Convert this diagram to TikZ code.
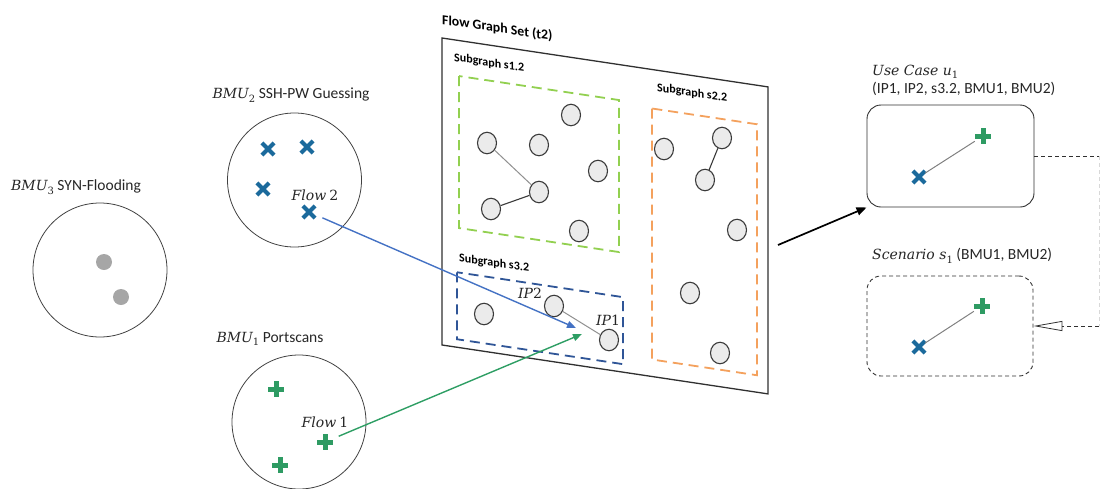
\documentclass[tikz,border=0pt]{standalone}
\usepackage{fontspec}
\setmainfont{Carlito}
\newfontfamily\mathlike{DejaVu Serif}
\usetikzlibrary{arrows.meta,shapes.misc,shapes.geometric}
\definecolor{xblue}{HTML}{1B6A9C}
\definecolor{xgreen}{HTML}{2E9B63}
\definecolor{arrblue}{HTML}{4472C4}
\definecolor{arrgreen}{HTML}{2E9E64}
\definecolor{dgreen}{HTML}{92D050}
\definecolor{dorange}{HTML}{F4A15D}
\definecolor{dblue}{HTML}{2F5597}
\definecolor{dotgray}{HTML}{A6A6A6}
\definecolor{nodefill}{HTML}{EBEBEB}
\definecolor{nodegray}{HTML}{3A3A3A}
\definecolor{circgray}{HTML}{404040}
\definecolor{boxgray}{HTML}{303030}
\definecolor{edgegray}{HTML}{909090}
\definecolor{faintgray}{HTML}{D8D8D8}
\definecolor{txtgray}{HTML}{262626}
\newcommand{\mi}[1]{{\mathlike\itshape #1}}
\newcommand{\msub}[1]{\raisebox{-0.25em}{\mathlike\fontsize{10}{11}\selectfont #1}}
\begin{document}
\begin{tikzpicture}[x=1pt,y=-1pt,
  bmu/.style={circle, draw=circgray, line width=0.8pt, minimum size=134pt, inner sep=0},
  gdot/.style={circle, fill=dotgray, minimum size=16pt, inner sep=0},
  xm/.style={cross out, draw=xblue, line width=4.2pt, minimum size=8pt, inner sep=0},
  pm/.style={rectangle, minimum size=16pt, inner sep=0,
    path picture={\draw[line width=5pt, xgreen]
      (path picture bounding box.west) -- (path picture bounding box.east)
      (path picture bounding box.north) -- (path picture bounding box.south);}},
  vert/.style={ellipse, draw=nodegray, fill=nodefill, line width=1.1pt, minimum width=19pt, minimum height=21.5pt, inner sep=0},
  lbl/.style={font=\fontsize{15.5}{17}\selectfont, text=txtgray, inner sep=0},
  mlbl/.style={font=\fontsize{14}{16}\selectfont, text=txtgray, inner sep=0},
  titlelbl/.style={font=\bfseries\fontsize{13.8}{15}\selectfont, inner sep=0, anchor=west, transform shape},
  sglbl/.style={font=\bfseries\fontsize{12}{13}\selectfont, inner sep=0, anchor=west, transform shape},
  panel/.style={draw=boxgray, line width=1.3pt, fill=white},
  gdash/.style={draw=dgreen, line width=1.8pt, dash pattern=on 10pt off 6pt},
  odash/.style={draw=dorange, line width=1.8pt, dash pattern=on 10pt off 6pt},
  bdash/.style={draw=dblue, line width=1.8pt, dash pattern=on 10pt off 6pt},
  flowarrow/.style={line width=1.4pt, -{Triangle[length=9pt,width=7pt]}},
  blackarrow/.style={line width=1.7pt, -{Triangle[length=10pt,width=8pt]}},
  ucbox/.style={rectangle, rounded corners=14pt, draw=boxgray, line width=0.9pt, minimum width=167pt, minimum height=102pt},
  scbox/.style={rectangle, rounded corners=14pt, draw=boxgray, line width=0.9pt, dash pattern=on 4pt off 3pt, minimum width=166pt, minimum height=100pt},
  link/.style={draw=edgegray, line width=1pt},
  darklink/.style={draw=nodegray, line width=1.1pt}
]
\useasboundingbox (0,0) rectangle (1100,488);

% ---- left clusters
\node[bmu] (c3) at (100,270) {};
\node[gdot] (g1) at (104,262) {};
\node[gdot] (g2) at (121,297) {};
\node[lbl, anchor=west] (l3) at (11,187) {{\fontsize{14}{16}\selectfont\mi{BMU}\msub{3}} SYN-Flooding};

\node[bmu] (c2) at (294.5,180) {};
\node[xm] (x1) at (268,149) {};
\node[xm] (x2) at (307,147) {};
\node[xm] (x3) at (263,189) {};
\node[xm] (f2) at (309,212) {};
\node[mlbl] (f2l) at (315,195) {\mi{Flow} {\mathlike 2}};
\node[lbl] (l2) at (291,95) {{\fontsize{14}{16}\selectfont\mi{BMU}\msub{2}} SSH-PW Guessing};

\node[bmu] (c1) at (299,422) {};
\node[pm] (p1) at (276,389) {};
\node[pm] (f1) at (325,442) {};
\node[pm] (p3) at (280,465) {};
\node[mlbl] (f1l) at (325,422) {\mi{Flow} {\mathlike 1}};
\node[lbl] (l1) at (270,339) {{\fontsize{14}{16}\selectfont\mi{BMU}\msub{1}} Portscans};

% ---- flow graph panel (slanted)
\begin{scope}[cm={1,-0.15,0,1,(442,0)}]
  \draw[panel] (0,38) rectangle (326,345);
  \node[titlelbl] (title) at (0,20) {Flow Graph Set (t2)};
  \draw[gdash] (17,73.5) rectangle (177,225.5);
  \node[sglbl] (s12) at (12,56) {Subgraph s1.2};
  \draw[odash] (210,77) rectangle (315,328);
  \node[sglbl] (s22) at (215,55.7) {Subgraph s2.2};
  \draw[bdash] (15,270) rectangle (181,337);
  \node[sglbl] (s32) at (17,255.5) {Subgraph s3.2};
\end{scope}

% subgraph s1.2 vertices
\node[vert] (n1) at (487,143) {};
\node[vert] (n2) at (539,145) {};
\node[vert] (n3) at (571,115) {};
\node[vert] (n4) at (598,171) {};
\node[vert] (n5) at (539,192) {};
\node[vert] (n6) at (491,209) {};
\node[vert] (n7) at (579,231) {};
\draw[link] (n1) -- (n5);
\draw[darklink] (n6) -- (n5);

% subgraph s2.2 vertices
\node[vert] (o1) at (664,149) {};
\node[vert] (o2) at (722,138) {};
\node[vert] (o3) at (705,180) {};
\node[vert] (o4) at (737,230) {};
\node[vert] (o5) at (690,293) {};
\node[vert] (o6) at (720,353) {};
\draw[darklink] (o2) -- (o3);

% subgraph s3.2 vertices
\node[vert] (b1) at (484,314) {};
\node[vert] (b2) at (554,306) {};
\node[vert] (b3) at (609,340) {};
\draw[link] (b2) -- (b3);
\node[mlbl] (ip2) at (530,293) {\mi{IP}{\mathlike 2}};
\node[mlbl] (ip1) at (608,320) {\mi{IP}{\mathlike 1}};

% ---- flow arrows
\coordinate (tip2) at (576,328);
\coordinate (tip1) at (582,334);
\draw[flowarrow, arrblue, shorten <=8pt] (f2) -- (tip2);
\draw[flowarrow, arrgreen, shorten <=6pt] (f1) -- (tip1);

% ---- right side
\node[ucbox] (uc) at (950.5,156) {};
\node[pm] (ucp) at (983,136) {};
\node[xm] (ucx) at (919,177) {};
\draw[link, draw=gray] (ucx) -- (ucp);
\node[mlbl, anchor=west] (ucl) at (872,72) {\mi{Use Case u}\msub{1}};
\node[lbl, anchor=west] (ucl2) at (872,89) {(IP1, IP2, s3.2, BMU1, BMU2)};

\node[scbox] (sc) at (950,326) {};
\node[pm] (scp) at (982,306) {};
\node[xm] (scx) at (919,347) {};
\draw[link, draw=gray] (scx) -- (scp);
\node[lbl, anchor=west] (scl) at (872,256) {{\fontsize{14}{16}\selectfont\mi{Scenario s}\msub{1}} (BMU1, BMU2)};

\coordinate (bstart) at (778,245);
\draw[blackarrow] (bstart) -- (uc.south west);

\coordinate (r1) at (1099,156);
\coordinate (r2) at (1099,326);
\draw[boxgray, line width=0.8pt, dash pattern=on 4pt off 3pt] (uc.east) -- (r1);
\draw[faintgray, line width=0.8pt, dash pattern=on 4pt off 3pt] (r1) -- (r2);
\draw[boxgray, line width=0.8pt, dash pattern=on 4pt off 3pt, -{Triangle[open, length=29pt, width=10pt, line width=0.8pt, sep=0pt]}] (r2) -- (sc.east);
\end{tikzpicture}
\end{document}
